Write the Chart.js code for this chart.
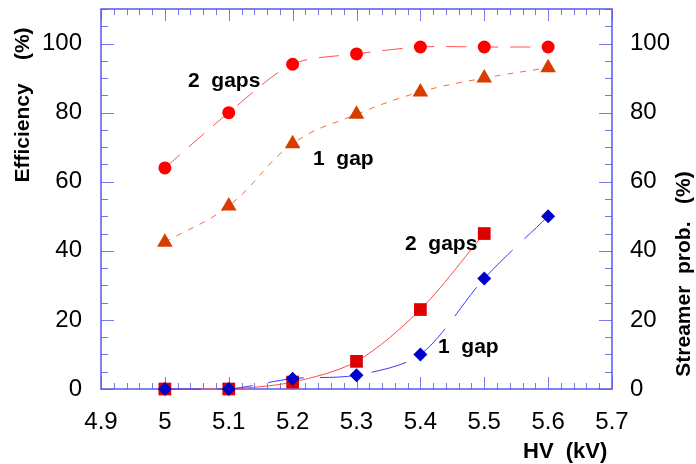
<!DOCTYPE html>
<html>
<head>
<meta charset="utf-8">
<script src="https://cdn.jsdelivr.net/npm/chart.js@4.4.1/dist/chart.umd.min.js"></script>
<style>
  body { margin: 0; background: #fff; }
  #boite { width: 696px; height: 464px; }
</style>
</head>
<body>
<div id="boite"><canvas id="graphs" width="696" height="464"></canvas></div>
<script>
// tension HV (kV)
var hv = [5.0, 5.1, 5.2, 5.3, 5.4, 5.5, 5.6];
// efficacite (%)
var eff2gaps = [64, 80, 94, 97, 99, 99, 99];
var eff1gap = [42.5, 53, 71, 79.5, 86, 90, 93];
// probabilite de streamer (%)
var streamer2gaps = [0, 0, 2, 8, 23, 45];
var streamer1gap = [0, 0, 3, 4, 10, 32, 50];
// graduations
var xTicks = [4.9, 5.0, 5.1, 5.2, 5.3, 5.4, 5.5, 5.6, 5.7];
var yTicks = [0, 20, 40, 60, 80, 100];

var police = "'Liberation Sans', Arial, sans-serif";
var bleuAxe = '#5a5ae6';

function points(xs, ys) {
    return ys.map((y, i) => ({ x: xs[i], y: y }));
}

// cadre et petites graduations vers l'interieur
var cadre = {
    id: 'cadre',
    beforeDatasetsDraw(chart) {
        var ctx = chart.ctx, a = chart.chartArea;
        var sx = chart.scales.x, sy = chart.scales.y;
        ctx.save();
        ctx.strokeStyle = '#7878ee';
        ctx.lineWidth = 1;
        for (var i = 0; i <= 40; i++) {
            var px = Math.round(sx.getPixelForValue(4.9 + i * 0.02)) + 0.5;
            var l = (i % 5 === 0) ? 12 : 6;
            ctx.beginPath();
            ctx.moveTo(px, a.bottom); ctx.lineTo(px, a.bottom - l);
            ctx.moveTo(px, a.top); ctx.lineTo(px, a.top + l);
            ctx.stroke();
        }
        for (var j = 0; j <= 22; j++) {
            var v = j * 5;
            var py = Math.round(sy.getPixelForValue(v)) + 0.5;
            var l2 = (v % 20 === 0 && v <= 100) ? 13 : 7;
            ctx.beginPath();
            ctx.moveTo(a.left, py); ctx.lineTo(a.left + l2, py);
            ctx.moveTo(a.right, py); ctx.lineTo(a.right - l2, py);
            ctx.stroke();
        }
        ctx.strokeStyle = bleuAxe;
        ctx.lineWidth = 1.5;
        ctx.strokeRect(a.left, a.top, a.right - a.left, a.bottom - a.top);
        ctx.restore();
    },
    afterDatasetsDraw(chart) {
        var ctx = chart.ctx;
        ctx.save();
        ctx.fillStyle = '#000';
        ctx.textBaseline = 'alphabetic';
        ctx.textAlign = 'left';
        ctx.font = 'bold 21px ' + police;
        ctx.fillText('2  gaps', 188, 87);
        ctx.fillText('1  gap', 313, 165);
        ctx.fillText('2  gaps', 405, 250);
        ctx.fillText('1  gap', 438, 353);

        ctx.font = 'bold 22px ' + police;
        ctx.fillText('HV  (kV)', 523, 458);

        ctx.font = 'bold 21px ' + police;
        ctx.textAlign = 'center';
        ctx.textBaseline = 'middle';
        ctx.save();
        ctx.translate(23, 105);
        ctx.rotate(-Math.PI / 2);
        ctx.fillText('Efficiency    (%)', 0, 0);
        ctx.restore();
        ctx.save();
        ctx.translate(684, 274);
        ctx.rotate(-Math.PI / 2);
        ctx.fillText('Streamer  prob.   (%)', 0, 0);
        ctx.restore();
        ctx.restore();
    }
};

function largeurFixe(w) {
    return function(s) {
        s.width = w;
        s.paddingTop = 0;
        s.paddingBottom = 0;
    };
}

document.addEventListener('DOMContentLoaded', function() {
    var ctx = document.getElementById('graphs').getContext('2d');
    new Chart(ctx, {
        type: 'line',
        data: {
            datasets: [{
                label: 'Streamer 1 gap',
                data: points(hv, streamer1gap),
                yAxisID: 'y2',
                order: 0,
                borderColor: '#3a3aff',
                borderWidth: 1,
                borderDash: [36, 16],
                tension: 0.3,
                pointStyle: 'rectRot',
                pointRadius: 7,
                pointBackgroundColor: '#0000cc',
                pointBorderColor: '#0000cc',
                pointBorderWidth: 0,
                clip: false
            }, {
                label: 'Streamer 2 gaps',
                data: points(hv, streamer2gaps),
                yAxisID: 'y2',
                order: 1,
                borderColor: '#ff4a4a',
                borderWidth: 1,
                tension: 0.3,
                pointStyle: 'rect',
                pointRadius: 9,
                pointBackgroundColor: '#dd0000',
                pointBorderColor: '#dd0000',
                pointBorderWidth: 0,
                clip: false
            }, {
                label: 'Efficiency 1 gap',
                data: points(hv, eff1gap),
                yAxisID: 'y',
                order: 2,
                borderColor: '#ff6a30',
                borderWidth: 1,
                borderDash: [6, 7],
                tension: 0.4,
                pointStyle: 'triangle',
                pointRadius: 9,
                pointBackgroundColor: '#d83c00',
                pointBorderColor: '#d83c00',
                pointBorderWidth: 0,
                clip: false
            }, {
                label: 'Efficiency 2 gaps',
                data: points(hv, eff2gaps),
                yAxisID: 'y',
                order: 3,
                borderColor: '#ff5050',
                borderWidth: 1,
                borderDash: [20, 12],
                tension: 0.3,
                pointStyle: 'circle',
                pointRadius: 6.5,
                pointBackgroundColor: '#ff0000',
                pointBorderColor: '#ff0000',
                pointBorderWidth: 0,
                clip: false
            }]
        },
        options: {
            responsive: false,
            animation: false,
            layout: { padding: { top: 9, left: 0, right: 0, bottom: 0 } },
            plugins: {
                legend: { display: false },
                tooltip: { enabled: false },
                title: { display: false }
            },
            scales: {
                x: {
                    type: 'linear',
                    min: 4.9,
                    max: 5.7,
                    afterBuildTicks: s => { s.ticks = xTicks.map(v => ({ value: v })); },
                    afterFit: s => { s.height = 75; s.paddingLeft = 0; s.paddingRight = 0; },
                    grid: { display: false, drawTicks: false },
                    border: { display: false },
                    ticks: {
                        autoSkip: false,
                        maxRotation: 0,
                        padding: 19,
                        color: '#000',
                        font: { family: police, size: 24 },
                        callback: v => String(Number(v.toFixed(1)))
                    }
                },
                y: {
                    position: 'left',
                    min: 0,
                    max: 110,
                    afterBuildTicks: s => { s.ticks = yTicks.map(v => ({ value: v })); },
                    afterFit: largeurFixe(101),
                    grid: { display: false, drawTicks: false },
                    border: { display: false },
                    ticks: {
                        padding: 19,
                        color: '#000',
                        font: { family: police, size: 24 }
                    }
                },
                y2: {
                    position: 'right',
                    min: 0,
                    max: 110,
                    afterBuildTicks: s => { s.ticks = yTicks.map(v => ({ value: v })); },
                    afterFit: largeurFixe(84),
                    grid: { display: false, drawTicks: false },
                    border: { display: false },
                    ticks: {
                        padding: 18,
                        color: '#000',
                        font: { family: police, size: 24 }
                    }
                }
            }
        },
        plugins: [cadre]
    });
});
</script>
</body>
</html>
